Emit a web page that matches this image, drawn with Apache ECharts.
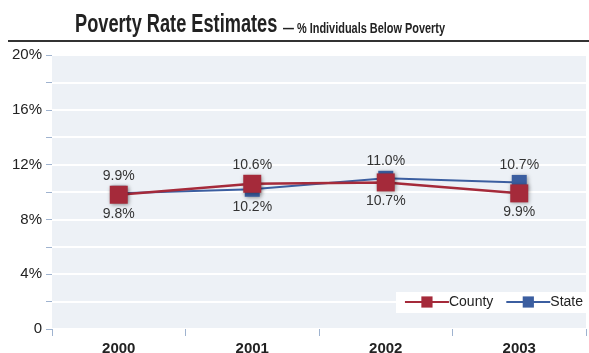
<!DOCTYPE html>
<html><head><meta charset="utf-8">
<script src="https://cdn.jsdelivr.net/npm/echarts@6/dist/echarts.min.js"></script>
<style>html,body{margin:0;padding:0;background:#fff}#c{width:589px;height:353px}</style>
</head><body><div id="c"></div>
<script>
const years = ['2000', '2001', '2002', '2003'];
const county = [9.8, 10.6, 10.7, 9.9];
const state = [9.9, 10.2, 11.0, 10.7];
const countyLabelPos = ['bottom', 'top', 'bottom', 'bottom'];
const stateLabelPos = ['top', 'bottom', 'top', 'top'];

const SANS = '"Liberation Sans",Arial,sans-serif';
const RED = '#a52a3a', BLUE = '#3b5ea0';

function mk(vals, pos) {
  return vals.map((v, i) => ({ value: v, label: { position: pos[i] } }));
}
const labelStyle = { show: true, formatter: p => p.value.toFixed(1) + '%', fontFamily: SANS, fontSize: 14, color: '#333', distance: 3 };

const chart = echarts.init(document.getElementById('c'), null, { renderer: 'canvas' });
chart.setOption({
  animation: false,
  graphic: [
    { type: 'text', x: 75, y: 12, scaleX: 0.70, originX: 0, originY: 0,
      style: { text: 'Poverty Rate Estimates', fontFamily: SANS, fontWeight: 'bold', fontSize: 26, fill: '#222', verticalAlign: 'top' } },
    { type: 'text', x: 283, y: 22, scaleX: 0.78, originX: 0, originY: 0,
      style: { text: '— % Individuals Below Poverty', fontFamily: SANS, fontWeight: 'bold', fontSize: 14, fill: '#222', verticalAlign: 'top' } },
    { type: 'line', shape: { x1: 8, y1: 41, x2: 589, y2: 41 }, style: { stroke: '#333', lineWidth: 2 } }
  ],
  legend: {
    right: 0, top: 292, padding: [3, 6, 4, 8], itemGap: 12,
    backgroundColor: '#fff', itemWidth: 44, itemHeight: 14,
    textStyle: { fontFamily: SANS, fontSize: 14, color: '#222', padding: [0, 0, 0, -5] },
    data: ['County', 'State']
  },
  grid: { left: 52, right: 3, top: 55, bottom: 24, show: true, backgroundColor: '#edf1f6', borderWidth: 0, outerBoundsMode: 'none', containLabel: false },
  xAxis: {
    type: 'category', data: years, boundaryGap: true,
    axisLine: { show: false },
    axisTick: { show: true, length: 7, lineStyle: { color: '#9fb3cf', width: 1 } },
    axisLabel: { fontFamily: SANS, fontSize: 15, fontWeight: 'bold', color: '#222', margin: 12 },
    splitLine: { show: false }
  },
  yAxis: {
    type: 'value', min: 0, max: 20, interval: 2,
    axisLine: { show: false },
    axisTick: { show: true, length: 6, inside: false, lineStyle: { color: '#9fb3cf' } },
    axisLabel: { margin: 10, fontFamily: SANS, fontSize: 15, color: '#222',
      formatter: v => v % 4 !== 0 ? '' : (v === 0 ? '0' : v + '%') },
    splitLine: { show: true, lineStyle: { color: '#ffffff', width: 2 } }
  },
  series: [
    { name: 'State', type: 'line', data: mk(state, stateLabelPos), symbol: 'rect', symbolSize: 15,
      itemStyle: { color: BLUE, shadowBlur: 4, shadowColor: 'rgba(0,0,0,0.35)', shadowOffsetX: 1, shadowOffsetY: 1 },
      lineStyle: { color: BLUE, width: 2 }, label: labelStyle, z: 2 },
    { name: 'County', type: 'line', data: mk(county, countyLabelPos), symbol: 'rect', symbolSize: 18,
      itemStyle: { color: RED, shadowBlur: 4, shadowColor: 'rgba(0,0,0,0.35)', shadowOffsetX: 1, shadowOffsetY: 1 },
      lineStyle: { color: RED, width: 2.5 }, label: labelStyle, z: 3 }
  ]
});
</script></body></html>
